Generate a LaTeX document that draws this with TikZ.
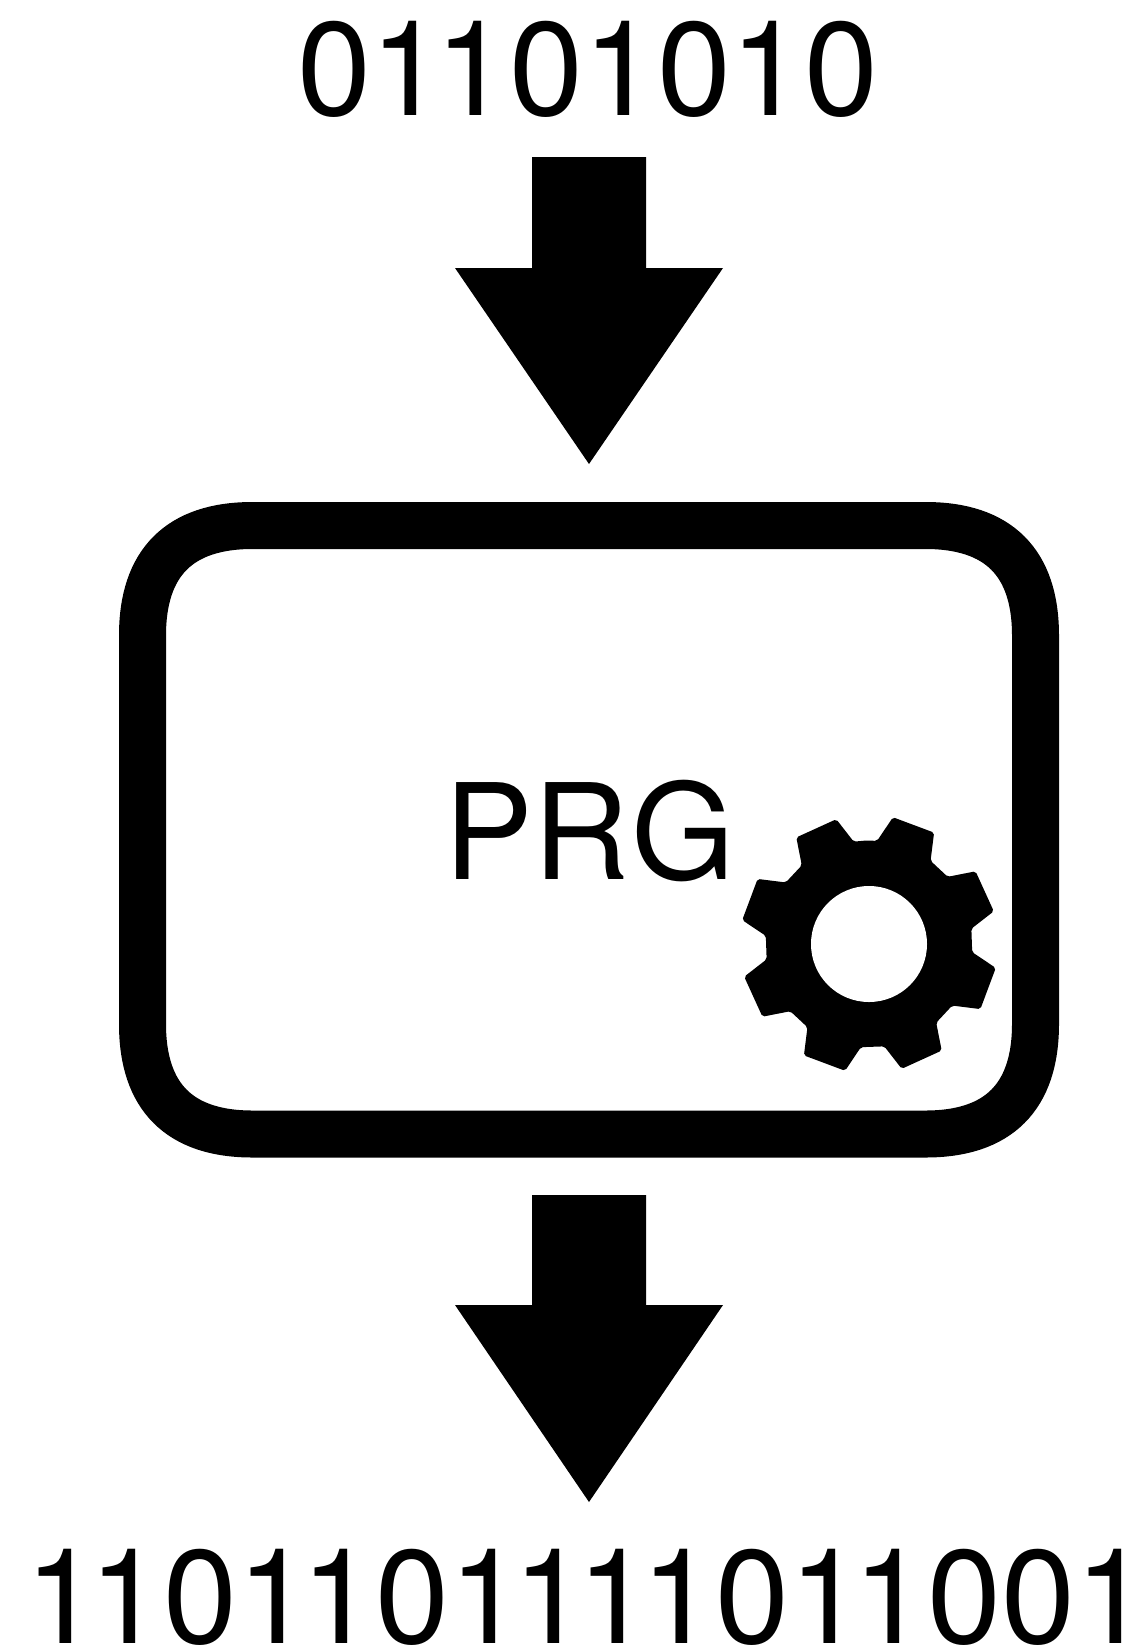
\documentclass[tikz,border=0pt]{standalone}
\usepackage{fontspec}
\usetikzlibrary{calc}
\setmainfont{TeX Gyre Heros}
\newcommand\onekern{\kern-9.84pt}
\tikzset{
  bits/.style={inner sep=0pt,outer sep=0pt,anchor=base west,font=\fontsize{133}{133}\selectfont},
  blockarrow/.style={fill=black,draw=none},
  frame/.style={draw=black,line width=47pt},
  gearshape/.style={fill=black,draw=none}
}
\begin{document}
\begin{tikzpicture}[x=1pt,y=-1pt]
\useasboundingbox (0,0) rectangle (1142,1649);
\node[bits] (input) at (297,115) {01\onekern101010};
\node[bits] (output) at (25,1643) {1\onekern101\onekern101\onekern1\onekern1\onekern101\onekern1001};
\node[bits] (prg) at (444,879) {P\kern1ptR\kern2ptG};
% arrows
\fill[blockarrow] (532,157) -- (646,157) -- (646,268) -- (723,268) -- (589,464) -- (455,268) -- (532,268) -- cycle;
\fill[blockarrow] (532,1195) -- (646,1195) -- (646,1305) -- (723,1305) -- (589,1502) -- (455,1305) -- (532,1305) -- cycle;
% box
\draw[frame] (252.5,525.5) -- (925.5,525.5)
  .. controls (998.5,525.5) and (1035.5,562.5) .. (1035.5,635.5)
  -- (1035.5,1024)
  .. controls (1035.5,1097) and (998.5,1134) .. (925.5,1134)
  -- (252.5,1134)
  .. controls (179.5,1134) and (142.5,1097) .. (142.5,1024)
  -- (142.5,635.5)
  .. controls (142.5,562.5) and (179.5,525.5) .. (252.5,525.5) -- cycle;
% gear
\fill[gearshape,rounded corners=2pt]
  ($(869,944)+({sin(358)*103.5},{-cos(358)*103.5})$)
  \foreach \a in {20.5,65.5,110.5,155.5,200.5,245.5,290.5,335.5}{
    -- ($(869,944)+({sin(\a-16)*103.5},{-cos(\a-16)*103.5})$)
    -- ($(869,944)+({sin(\a-9.8)*129},{-cos(\a-9.8)*129})$)
    -- ($(869,944)+({sin(\a+9.8)*129},{-cos(\a+9.8)*129})$)
    -- ($(869,944)+({sin(\a+16)*103.5},{-cos(\a+16)*103.5})$)
  } -- cycle;
\fill[white] (869,944) circle[radius=58];
\end{tikzpicture}
\end{document}
